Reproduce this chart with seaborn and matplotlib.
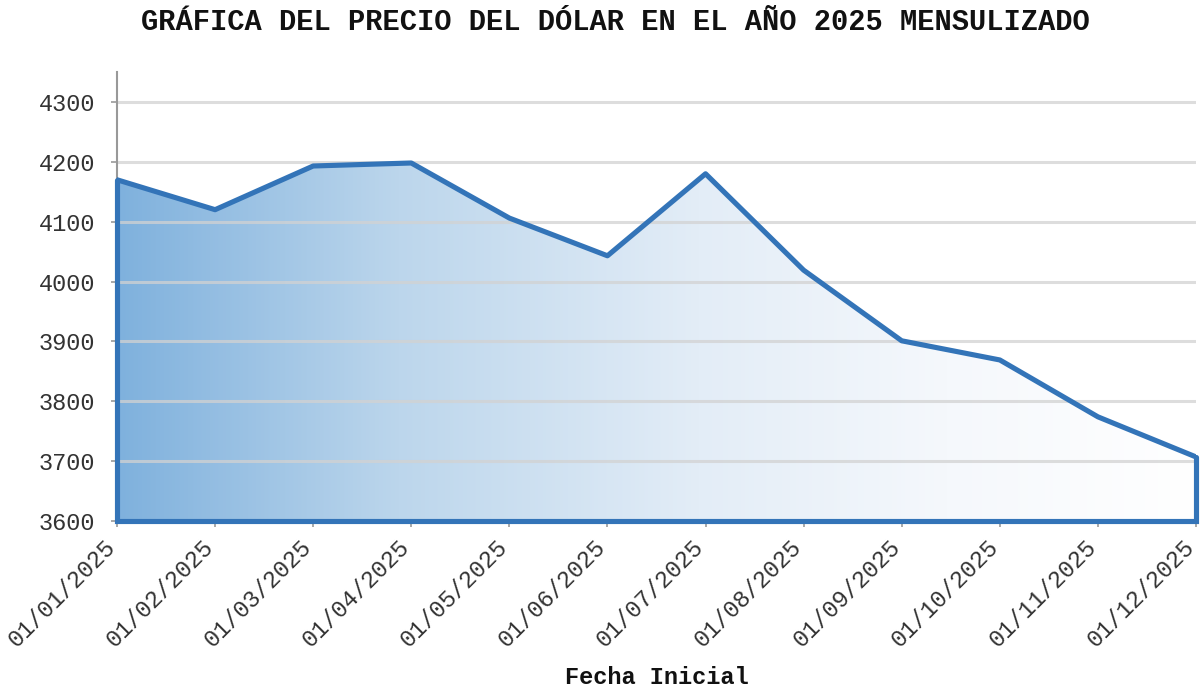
import numpy as np
import pandas as pd
import matplotlib
matplotlib.use("Agg")
import matplotlib.pyplot as plt
import matplotlib.transforms as mtransforms
import seaborn as sns
from matplotlib.colors import LinearSegmentedColormap

# Monthly dollar price, 2025
fechas = ["01/01/2025", "01/02/2025", "01/03/2025", "01/04/2025", "01/05/2025",
          "01/06/2025", "01/07/2025", "01/08/2025", "01/09/2025", "01/10/2025",
          "01/11/2025", "01/12/2025"]
precios = [4170, 4120, 4193, 4198, 4106, 4043, 4180, 4019, 3901, 3869, 3774, 3707]
y_ticks = [3600, 3700, 3800, 3900, 4000, 4100, 4200, 4300]

titulo = "GRÁFICA DEL PRECIO DEL DÓLAR EN EL AÑO 2025 MENSULIZADO"
etiqueta_x = "Fecha Inicial"

df = pd.DataFrame({"fecha": fechas, "precio": precios})
df["pos"] = np.arange(len(df))

sns.set_theme(style="white")
plt.rcParams["font.family"] = ["Liberation Mono", "DejaVu Sans Mono"]

line_color = "#3374b8"
line_w = 3.7
fig = plt.figure(figsize=(12.02, 6.88), dpi=100)
ax = fig.add_axes([117 / 1202, 1 - 521 / 688, (1196 - 117) / 1202, (521 - 72) / 688])

y_min, y_max = 3600, 4350
x = df["pos"].to_numpy()
y = df["precio"].to_numpy()

# Horizontal gradient fill clipped to the area under the curve
poly = ax.fill_between(x, y, y_min, facecolor="none", edgecolor="none")
cmap = LinearSegmentedColormap.from_list(
    "grad",
    [(0.0, "#7fb1dd"), (0.26, "#bcd6ec"), (0.54, "#e3edf7"),
     (0.77, "#f5f8fc"), (1.0, "#ffffff")])
grad = np.linspace(0, 1, 512).reshape(1, -1)
img = ax.imshow(grad, cmap=cmap, aspect="auto", extent=[x[0], x[-1], y_min, y_max],
                origin="lower", zorder=1, interpolation="bilinear")
img.set_clip_path(poly.get_paths()[0], transform=ax.transData)

# Grid drawn over the fill
for t in y_ticks:
    ax.axhline(t, color="#d2d2d2", lw=2.2, alpha=0.75, zorder=2)

# Outline of the area: curve plus right edge and baseline
sns.lineplot(data=df, x="pos", y="precio", ax=ax, color=line_color, lw=line_w,
             zorder=4, sort=False)
ax.plot([x[-1], x[-1], x[0], x[0]], [y[-1], y_min, y_min, y[0]],
        color=line_color, lw=line_w, zorder=4, solid_joinstyle="miter", clip_on=False)

ax.set_xlim(x[0], x[-1])
ax.set_ylim(y_min, y_max)
ax.set_yticks(y_ticks)
ax.set_yticklabels([str(t) for t in y_ticks], fontsize=17, color="#333333")
ax.set_xticks(x)
ax.set_xticklabels(fechas, rotation=45, ha="right", va="center_baseline",
                   rotation_mode="anchor", fontsize=17, color="#333333")

for s in ["top", "right", "bottom"]:
    ax.spines[s].set_visible(False)
ax.spines["left"].set_color("#999999")
ax.spines["left"].set_linewidth(1.5)
ax.tick_params(axis="both", which="major", length=4.5, width=1.2, color="#999999",
               direction="out", bottom=True, left=True)
ax.tick_params(axis="y", pad=11)
ax.tick_params(axis="x", pad=6)

ax.set_xlabel(etiqueta_x, fontsize=17, fontweight="bold", color="#111111")
ax.xaxis.set_label_coords(0.5, (521 - 677) / 449)
ax.xaxis.label.set_va("center")
ax.set_ylabel("")
fig.suptitle(titulo, x=615 / 1202, y=1 - 22 / 688, va="center", fontsize=20.7,
             fontweight="bold", color="#111111")

# Nudge the rotated date labels so they end right at their tick
fig.canvas.draw()
shift = mtransforms.ScaledTranslation(-7 / 100, -6 / 100, fig.dpi_scale_trans)
for tick in ax.xaxis.get_major_ticks():
    tick.label1.set_transform(tick.label1.get_transform() + shift)

fig.savefig("out.png", dpi=100)
